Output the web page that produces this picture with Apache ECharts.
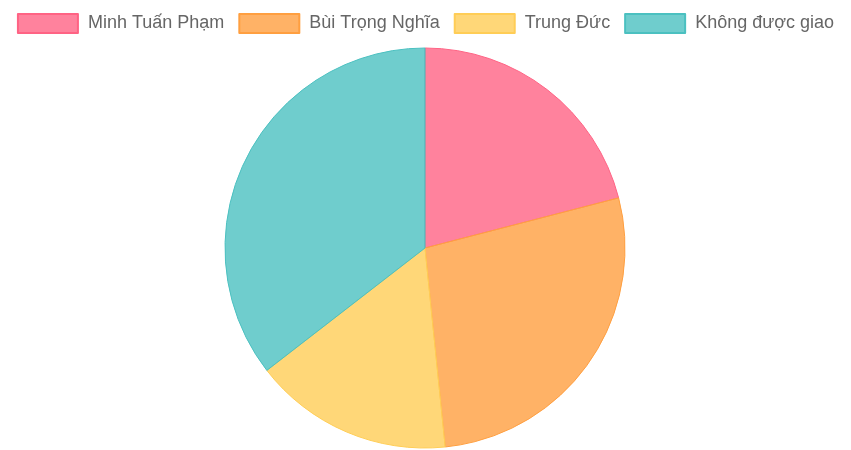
<!DOCTYPE html>
<html><head><meta charset="utf-8">
<script src="https://cdn.jsdelivr.net/npm/echarts@6/dist/echarts.min.js"></script>
<style>html,body{margin:0;padding:0;background:#fff}#c{width:851px;height:450px}</style>
</head><body><div id="c"></div>
<script>
const categories = ["Minh Tuấn Phạm", "Bùi Trọng Nghĩa", "Trung Đức", "Không được giao"];
const values = [13, 17, 10, 22];
const fillColors = ["rgba(255,99,132,0.8)", "rgba(255,159,64,0.8)", "rgba(255,205,86,0.8)", "rgba(75,192,192,0.8)"];
const borderColors = ["rgb(255,99,132)", "rgb(255,159,64)", "rgb(255,205,86)", "rgb(75,192,192)"];

const chart = echarts.init(document.getElementById('c'), null, {renderer: 'canvas'});
chart.setOption({
  animation: false,
  legend: {
    top: 13, left: 'center', padding: 0,
    itemWidth: 60, itemHeight: 19, itemGap: 14,
    icon: 'rect',
    textStyle: {color: '#666', fontSize: 18, fontFamily: 'Liberation Sans, Arial, sans-serif', padding: [0,0,0,5]},
    data: categories
  },
  series: [{
    type: 'pie',
    center: [425, 248],
    radius: [0, 200],
    startAngle: 90,
    clockwise: true,
    label: {show: false},
    labelLine: {show: false},
    emphasis: {disabled: true},
    data: categories.map((n, i) => ({
      name: n, value: values[i],
      itemStyle: {color: fillColors[i], borderColor: borderColors[i], borderWidth: 1}
    }))
  }]
});
</script></body></html>
